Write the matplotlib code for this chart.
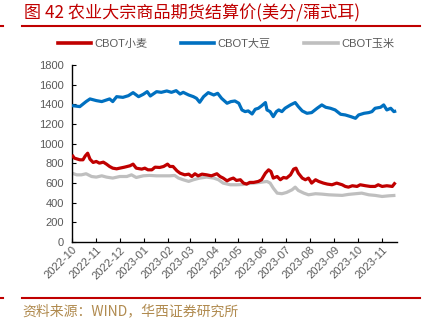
import matplotlib
matplotlib.use("Agg")
import matplotlib.pyplot as plt
import matplotlib.dates as mdates
import numpy as np
import pandas as pd
from matplotlib.lines import Line2D

# ---------------- data (days since 2022-10-01, price in US cents / bushel) -------------
start_date = "2022-10-01"
end_date = "2023-11-20"

wheat_days = [0, 3, 10, 14, 17, 20, 23, 27, 31, 35, 40, 44, 48, 52, 57, 61, 67, 74, 78, 82,
              89, 93, 97, 102, 106, 112, 117, 122, 125, 129, 134, 138, 144, 149, 153, 157, 161, 166, 172, 178,
              185, 189, 193, 198, 202, 206, 210, 215, 219, 223, 227, 232, 238, 242, 247, 251, 254, 257, 262, 266,
              270, 274, 279, 283, 286, 289, 294, 298, 302, 306, 311, 315, 321, 326, 332, 338, 345, 349, 353, 358,
              364, 368, 375, 381, 387, 391, 396, 402, 409, 413]
wheat = [886, 853, 836, 836, 876, 903, 842, 809, 819, 802, 812, 792, 768, 751, 744, 751, 761, 775, 792, 751,
         741, 751, 734, 734, 761, 758, 768, 792, 768, 768, 724, 700, 683, 690, 666, 694, 673, 690, 683, 673,
         694, 666, 650, 622, 639, 650, 626, 633, 599, 589, 606, 606, 616, 633, 700, 734, 717, 650, 666, 633,
         656, 650, 683, 741, 751, 700, 650, 633, 650, 599, 633, 616, 599, 589, 582, 599, 582, 565, 558, 572,
         565, 582, 572, 565, 565, 582, 565, 572, 565, 606]

soy_days = [0, 10, 18, 23, 31, 38, 48, 52, 57, 65, 72, 78, 85, 91, 96, 100, 108, 114, 121, 127,
            133, 138, 142, 149, 155, 159, 163, 168, 174, 181, 186, 191, 198, 203, 208, 213, 217, 221, 225, 230,
            234, 238, 242, 247, 249, 253, 257, 261, 264, 268, 272, 279, 285, 289, 294, 300, 306, 313, 319, 324,
            330, 336, 343, 349, 356, 362, 366, 373, 379, 383, 387, 394, 398, 402, 407, 411, 414]
soy = [1387, 1377, 1428, 1455, 1438, 1428, 1455, 1428, 1478, 1471, 1488, 1519, 1478, 1502, 1529, 1485, 1529, 1522, 1536, 1522,
       1539, 1505, 1522, 1495, 1478, 1461, 1421, 1478, 1519, 1495, 1512, 1461, 1411, 1428, 1434, 1411, 1343, 1326, 1333, 1302,
       1350, 1360, 1384, 1418, 1343, 1326, 1275, 1326, 1343, 1326, 1360, 1394, 1418, 1377, 1333, 1309, 1316, 1360, 1394, 1370,
       1360, 1343, 1299, 1292, 1275, 1258, 1292, 1309, 1316, 1326, 1360, 1370, 1394, 1343, 1360, 1326, 1333]

corn_days = [0, 6, 12, 18, 25, 31, 38, 44, 52, 61, 70, 76, 82, 91, 99, 108, 117, 125, 131, 136,
             142, 149, 155, 163, 172, 181, 187, 193, 202, 210, 219, 223, 232, 240, 249, 253, 257, 262, 268, 274,
             281, 285, 289, 296, 302, 311, 319, 328, 336, 345, 353, 362, 370, 379, 387, 396, 405, 413]
corn = [700, 683, 683, 694, 666, 660, 673, 660, 650, 666, 666, 683, 656, 673, 677, 673, 673, 673, 677, 650,
        633, 616, 633, 650, 660, 650, 633, 599, 582, 582, 585, 592, 599, 606, 616, 599, 548, 497, 491, 504,
        531, 558, 524, 497, 480, 491, 487, 480, 477, 474, 484, 491, 497, 480, 474, 463, 470, 474]

series_names = ["CBOT小麦", "CBOT大豆", "CBOT玉米"]
series_colors = ["#c00000", "#0070c0", "#bfbfbf"]
y_ticks = [0, 200, 400, 600, 800, 1000, 1200, 1400, 1600, 1800]

title_text = "图 42 农业大宗商品期货结算价(美分/蒲式耳)"
source_text = "资料来源：WIND，华西证券研究所"

# ---------------- figure -------------
CJK = ["Noto Sans CJK SC", "DejaVu Sans"]
LAT = ["Liberation Sans", "Noto Sans CJK SC"]
plt.rcParams["font.family"] = LAT

fig = plt.figure(figsize=(4.29, 3.23), dpi=100)
ax = fig.add_axes([72 / 429, 1 - 242 / 323, (397 - 72) / 429, (242 - 65) / 323])

base = pd.Timestamp(start_date)
def to_dates(days):
    return [base + pd.Timedelta(days=int(d)) for d in days]

lw = 2.3
ax.plot(to_dates(corn_days), corn, color=series_colors[2], lw=lw, zorder=2, solid_capstyle="butt")
ax.plot(to_dates(soy_days), soy, color=series_colors[1], lw=lw, zorder=3, solid_capstyle="butt")
ax.plot(to_dates(wheat_days), wheat, color=series_colors[0], lw=lw, zorder=4, solid_capstyle="butt")

ax.set_xlim(pd.Timestamp(start_date), pd.Timestamp(end_date))
ax.set_ylim(0, 1800)
ax.set_yticks(y_ticks)
ax.xaxis.set_major_locator(mdates.MonthLocator())
ax.xaxis.set_major_formatter(mdates.DateFormatter("%Y-%m"))

for s in ["top", "right"]:
    ax.spines[s].set_visible(False)
for s in ["left", "bottom"]:
    ax.spines[s].set_color("black")
    ax.spines[s].set_linewidth(1.0)

ax.tick_params(axis="both", direction="in", length=3, width=0.8, colors="black",
               labelcolor="#595959", labelsize=8)
ax.tick_params(axis="y", pad=6)
ax.tick_params(axis="x", pad=2)
for lab in ax.get_xticklabels():
    lab.set_rotation(45)
    lab.set_ha("right")
    lab.set_rotation_mode("anchor")

# legend
handles = [Line2D([0], [0], color=c, lw=2.6) for c in series_colors]
leg = fig.legend(handles, series_names, loc="center", bbox_to_anchor=(226 / 429, 1 - 44 / 323),
                 ncol=3, frameon=False, handlelength=3.0, handletextpad=0.3,
                 columnspacing=3.0, borderpad=0, prop={"family": LAT, "size": 8})
for t in leg.get_texts():
    t.set_color("#595959")

# title and lines
fig.text(24 / 429, 1 - 13 / 323, title_text, color="#c00000", fontsize=12.3,
         family=CJK, va="center", ha="left")
fig.add_artist(Line2D([22 / 429, 420 / 429], [1 - 25.5 / 323] * 2, color="#c00000", lw=1.5))
fig.add_artist(Line2D([0, 3 / 429], [1 - 25.5 / 323] * 2, color="#c00000", lw=1.5))
fig.add_artist(Line2D([22 / 429, 420 / 429], [1 - 298 / 323] * 2, color="#c00000", lw=1.5))
fig.add_artist(Line2D([0, 3 / 429], [1 - 298 / 323] * 2, color="#c00000", lw=1.5))
fig.text(22 / 429, 1 - 311 / 323, source_text, color="#b08a4e", fontsize=10,
         family=CJK, va="center", ha="left")

fig.savefig("out.png", dpi=100)
